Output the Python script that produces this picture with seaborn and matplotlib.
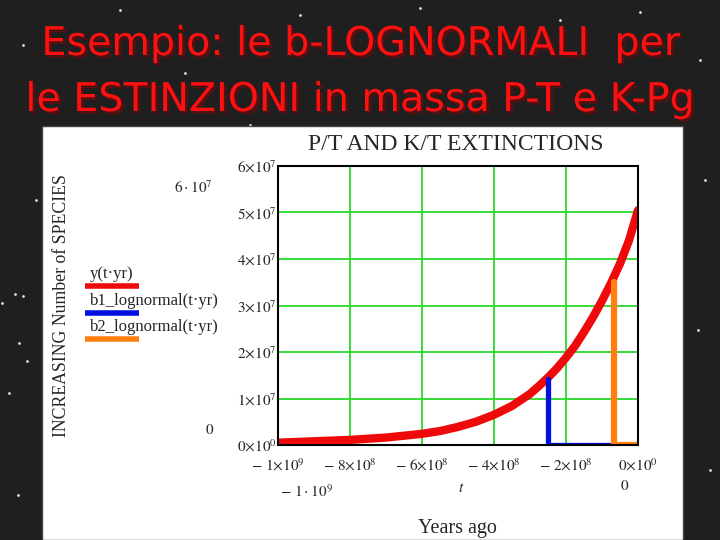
import matplotlib
matplotlib.use('Agg')
import matplotlib.pyplot as plt
import matplotlib.patheffects as pe
from matplotlib.patches import Rectangle
import seaborn as sns
import numpy as np
import pandas as pd

# values
years_ago = [-1.0e9, -9.0e8, -8.0e8, -7.0e8, -6.0e8, -5.5e8, -5.0e8, -4.5e8, -4.0e8,
             -3.5e8, -3.0e8, -2.75e8, -2.5e8, -2.25e8, -2.0e8, -1.75e8, -1.5e8,
             -1.25e8, -1.0e8, -7.5e7, -5.0e7, -2.5e7, 0.0]
species = [0.05e7, 0.08e7, 0.11e7, 0.16e7, 0.24e7, 0.30e7, 0.39e7, 0.50e7, 0.65e7,
           0.84e7, 1.10e7, 1.27e7, 1.45e7, 1.65e7, 1.88e7, 2.13e7, 2.43e7,
           2.75e7, 3.10e7, 3.48e7, 3.90e7, 4.40e7, 5.05e7]

b1_t = [-2.5e8, -2.5e8, -6.7e7]
b1_y = [1.42e7, 0.0, 0.0]
b2_t = [-6.7e7, -6.7e7, 0.0]
b2_y = [3.51e7, 0.0, 0.0]

x_ticks = [-1.0e9, -8.0e8, -6.0e8, -4.0e8, -2.0e8, 0.0]
x_labels = [r'$-\ 1{\times}10^{9}$', r'$-\ 8{\times}10^{8}$', r'$-\ 6{\times}10^{8}$',
            r'$-\ 4{\times}10^{8}$', r'$-\ 2{\times}10^{8}$', r'$0{\times}10^{0}$']
y_ticks = [0, 1e7, 2e7, 3e7, 4e7, 5e7, 6e7]
y_labels = [r'$0{\times}10^{0}$'] + [r'$%d{\times}10^{7}$' % i for i in range(1, 7)]

legend_names = ['y(t\u00b7yr)', 'b1_lognormal(t\u00b7yr)', 'b2_lognormal(t\u00b7yr)']

# a few background stars (pixel positions)
star_x = [36, 15, 23, 2, 19, 9, 18, 27, 23, 185, 300, 420, 560, 640, 700, 705, 698, 710, 120, 250]
star_y = [200, 294, 296, 303, 343, 393, 495, 361, 45, 73, 15, 8, 20, 12, 60, 180, 330, 470, 10, 125]

RED = '#ee0a0a'
BLUE = '#0010e0'
ORANGE = '#ff8010'
GREEN = '#2ad82a'

sns.set_theme(style='white')
plt.rcParams['font.family'] = ['DejaVu Sans']
plt.rcParams['mathtext.fontset'] = 'stix'

fig = plt.figure(figsize=(7.2, 5.4), dpi=100, facecolor='#1f1f1f')

# slide background
bg = fig.add_axes([0, 0, 1, 1], zorder=-1)
bg.set_xlim(0, 720)
bg.set_ylim(540, 0)
bg.axis('off')
bg.set_facecolor('#1f1f1f')
bg.scatter(star_x, star_y, s=4, color='#dddddd', linewidths=0)
bg.add_patch(Rectangle((42, 126), 641, 414, facecolor='white', edgecolor='#444444', lw=1))

shadow = [pe.withSimplePatchShadow(offset=(2, -2), shadow_rgbFace='#5a1010', alpha=0.9)]
bg.text(361, 44, 'Esempio: le b-LOGNORMALI  per', color='#ff1010', fontsize=28.5,
        ha='center', va='center', path_effects=shadow)
bg.text(360, 100, 'le ESTINZIONI in massa P-T e K-Pg', color='#ff1010', fontsize=28.5,
        ha='center', va='center', path_effects=shadow)

serif = 'Liberation Serif'
bg.text(456, 145, 'P/T AND K/T EXTINCTIONS', family=serif, fontsize=17, ha='center', va='center')
bg.text(62, 306, 'INCREASING Number of SPECIES', family=serif, fontsize=12.8,
        rotation=90, ha='center', va='center')
bg.text(457, 528, 'Years ago', family=serif, fontsize=14.5, ha='center', va='center')

# mathcad-style range markers
bg.text(213, 188, r'$6\cdot10^{7}$', fontsize=11, ha='right', va='center')
bg.text(214, 430, r'$0$', fontsize=11, ha='right', va='center')
bg.text(280, 492, r'$-\ 1\cdot10^{9}$', fontsize=11, ha='left', va='center')
bg.text(461, 487, r'$t$', fontsize=11, ha='center', va='center')
bg.text(625, 486, r'$0$', fontsize=11, ha='center', va='center')

# legend entries (text above coloured bar)
leg_y = [274, 301, 327]
for name, col, yy in zip(legend_names, [RED, BLUE, ORANGE], leg_y):
    bg.text(90, yy, name, family=serif, fontsize=12, ha='left', va='center')
    bg.plot([85, 139], [yy + 12, yy + 12], color=col, lw=4, solid_capstyle='butt')

# main plot
ax = fig.add_axes([278 / 720, 1 - 445 / 540, 360 / 720, 279 / 540])
ax.set_axisbelow(True)
ax.grid(True, color=GREEN, lw=1.3)

curve = pd.DataFrame({'t': years_ago, 'N': species})
sns.lineplot(data=curve, x='t', y='N', ax=ax, color=RED, lw=6, estimator=None, sort=False)
sns.lineplot(x=b1_t, y=b1_y, ax=ax, color=BLUE, lw=3.8, estimator=None, sort=False)
sns.lineplot(x=b2_t, y=b2_y, ax=ax, color=ORANGE, lw=4.5, estimator=None, sort=False)

ax.set_xlim(-1.0e9, 0.0)
ax.set_ylim(0, 6e7)
ax.set_xticks(x_ticks)
ax.set_xticklabels(x_labels, fontsize=11)
ax.set_yticks(y_ticks)
ax.set_yticklabels(y_labels, fontsize=11)
ax.set_xlabel('')
ax.set_ylabel('')
ax.tick_params(length=0)
ax.tick_params(axis='x', pad=9)
ax.tick_params(axis='y', pad=1)
for s in ax.spines.values():
    s.set_color('black')
    s.set_linewidth(1.5)

fig.savefig('out.png', dpi=100, facecolor=fig.get_facecolor())
